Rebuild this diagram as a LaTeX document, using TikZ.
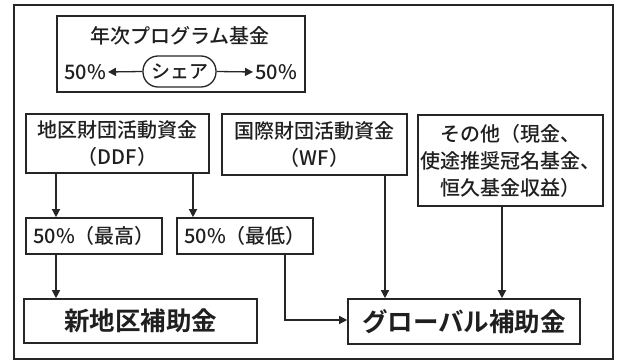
\documentclass[tikz,border=0pt]{standalone}
\usepackage{fontspec}
\setmainfont{Noto Sans CJK JP Medium}[BoldFont={Noto Sans CJK JP Bold}]
\usetikzlibrary{arrows.meta}
\begin{document}
\begin{tikzpicture}[x=1pt,y=-1pt,
  every node/.style={text=black!88},
  box/.style={draw=black!85,line width=1.6pt,inner sep=0pt,align=center,
    font=\fontsize{20}{27}\selectfont},
  big/.style={box,font=\fontsize{25.5}{30}\selectfont\bfseries},
  lbl/.style={inner sep=2pt,font=\fontsize{20}{24}\selectfont},
  arr/.style={draw=black!85,line width=1.3pt,-{Triangle[length=8pt,width=8pt]}}]
\useasboundingbox (0,0) rectangle (619,363);
\draw[draw=black!85,line width=2pt] (14,5) rectangle (613,359);
% top fund box
\node[box,minimum width=248pt,minimum height=76pt] (fund) at (181,54) {};
\node[lbl] (title) at (180,36) {年次プログラム基金};
\node[draw=black!85,line width=1.3pt,rounded corners=15pt,minimum width=73pt,minimum height=31pt,inner sep=0pt,font=\fontsize{19}{22}\selectfont] (share) at (179.5,71.5) {シェア};
\node[lbl] (l50) at (85,72) {50\%};
\node[lbl] (r50) at (276,72) {50\%};
\draw[arr] (share.west) -- (l50.east);
\draw[arr] (share.east) -- (r50.west);
% middle
\node[box,minimum width=183pt,minimum height=59pt] (ddf) at (117.5,143.5) {地区財団活動資金\\（DDF）};
\node[box,minimum width=185pt,minimum height=61pt] (wf) at (314.5,144.5) {国際財団活動資金\\（WF）};
\node[box,minimum width=185pt,minimum height=91pt] (oth) at (510.5,160.5) {その他（現金、\\使途推奨冠名基金、\\恒久基金収益）};
\node[box,minimum width=136pt,minimum height=36pt] (hi) at (94,236) {50\%（最高）};
\node[box,minimum width=136pt,minimum height=36pt] (lo) at (245,236) {50\%（最低）};
\node[big,minimum width=233pt,minimum height=44pt] (new) at (140.5,321) {新地区補助金};
\node[big,minimum width=232pt,minimum height=45pt] (glob) at (464,321.5) {グローバル補助金};
% connectors
\coordinate (c1) at (56,0);
\coordinate (c2) at (193,0);
\coordinate (c3) at (285,320);
\coordinate (c4) at (385,0);
\coordinate (c5) at (502,0);
\draw[arr] (ddf.south -| c1) -- (hi.north -| c1);
\draw[arr] (ddf.south -| c2) -- (lo.north -| c2);
\draw[arr] (hi.south -| c1) -- (new.north -| c1);
\draw[arr] (lo.south -| c3) -- (c3) -- (glob.west |- c3);
\draw[arr] (wf.south -| c4) -- (glob.north -| c4);
\draw[arr] (oth.south -| c5) -- (glob.north -| c5);
\end{tikzpicture}
\end{document}
